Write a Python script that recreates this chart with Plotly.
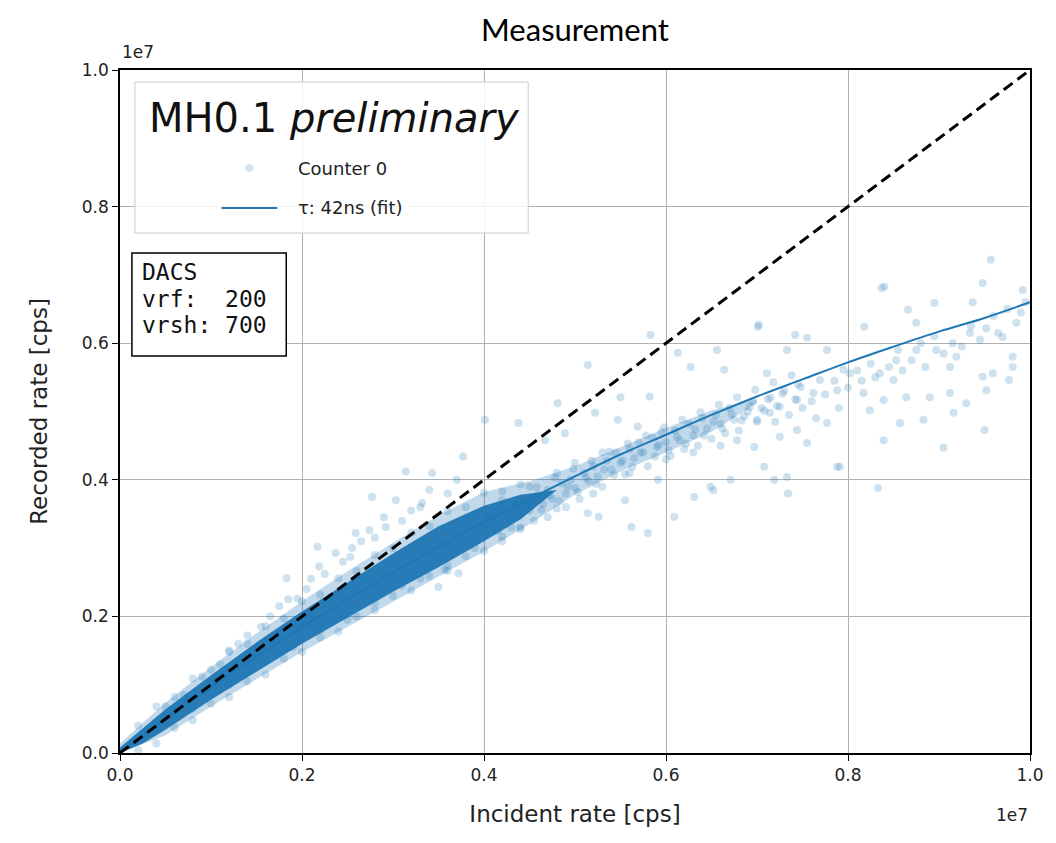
import plotly.graph_objects as go

# ---- data (units of 1e7 cps, as shown on the axes) ----
tick_vals = [0.0, 0.2, 0.4, 0.6, 0.8, 1.0]
tick_text = ["0.0", "0.2", "0.4", "0.6", "0.8", "1.0"]

# dense core of the measured cloud (region where points merge into a solid band)
core_x = [0.000, 0.025, 0.050, 0.100, 0.150, 0.200, 0.250, 0.300, 0.350, 0.400, 0.440, 0.480]
core_lo = [0.000, 0.014, 0.034, 0.078, 0.119, 0.160, 0.198, 0.236, 0.272, 0.310, 0.342, 0.385]
core_hi = [0.008, 0.036, 0.064, 0.114, 0.162, 0.207, 0.250, 0.292, 0.332, 0.362, 0.378, 0.385]

halo_x = [0.000, 0.050, 0.100, 0.150, 0.200, 0.250, 0.300, 0.350, 0.400, 0.450, 0.500, 0.550, 0.600, 0.650, 0.700]
halo_lo = [0.000, 0.026, 0.068, 0.108, 0.148, 0.185, 0.222, 0.258, 0.295, 0.335, 0.378, 0.412, 0.440, 0.470, 0.512]
halo_hi = [0.014, 0.074, 0.126, 0.175, 0.222, 0.266, 0.308, 0.348, 0.382, 0.398, 0.420, 0.448, 0.476, 0.502, 0.518]

# individually visible points of Counter 0
counter_x = [
    0.050, 0.070, 0.090, 0.110, 0.120, 0.130, 0.140, 0.155, 0.165, 0.175, 0.183, 0.185, 0.195, 0.205, 0.210,
    0.217, 0.219, 0.225, 0.237, 0.245, 0.253, 0.255, 0.259, 0.265, 0.274, 0.277, 0.280, 0.290, 0.292, 0.303,
    0.310, 0.314, 0.320, 0.330, 0.332, 0.340, 0.343, 0.360, 0.370, 0.377,
    0.080, 0.120, 0.160, 0.190, 0.220, 0.250, 0.280, 0.310, 0.330, 0.350, 0.357, 0.360, 0.372, 0.390, 0.420,
    0.401, 0.438, 0.467, 0.481, 0.489, 0.514, 0.522, 0.547, 0.550, 0.569, 0.582, 0.583, 0.613, 0.627, 0.656,
    0.664, 0.701,
    0.514, 0.526, 0.555, 0.562, 0.580, 0.591, 0.609, 0.631, 0.649, 0.652, 0.671,
    0.400, 0.405, 0.410, 0.415, 0.420, 0.425, 0.430, 0.435, 0.440, 0.445, 0.450, 0.455, 0.460, 0.465, 0.470,
    0.475, 0.480, 0.485, 0.490, 0.495, 0.500, 0.505, 0.510, 0.515, 0.520, 0.525, 0.530, 0.535, 0.540, 0.545,
    0.550, 0.555, 0.560, 0.565, 0.570, 0.575, 0.580, 0.585, 0.590, 0.595, 0.600, 0.605, 0.610, 0.615, 0.620,
    0.625, 0.630, 0.635, 0.640, 0.645, 0.650, 0.655, 0.660, 0.665, 0.670, 0.675, 0.680, 0.690, 0.695, 0.700,
    0.420, 0.450, 0.480, 0.500, 0.530, 0.470, 0.520, 0.560, 0.600, 0.630, 0.660, 0.440, 0.490,
    0.957, 0.948, 0.837, 0.895, 0.866, 0.937, 0.992, 0.875, 0.818, 0.702, 0.742, 0.755, 0.952, 0.970, 0.934,
    0.981, 0.981, 0.959, 0.948, 0.977, 0.919, 0.912, 0.897, 0.875, 0.853, 0.835, 0.850, 0.864, 0.839, 0.890,
    0.912, 0.930, 0.952, 0.883, 0.857, 0.950, 0.905, 0.839, 0.817, 0.824, 0.802, 0.788, 0.769, 0.762, 0.744,
    0.725, 0.714, 0.700, 0.686, 0.678, 0.725, 0.744, 0.777, 0.755, 0.788, 0.708, 0.733, 0.697, 0.733, 0.711,
    0.777, 0.795, 0.916, 0.840, 0.734, 0.833, 0.719, 0.791,
    0.705, 0.715, 0.720, 0.730, 0.735, 0.745, 0.750, 0.760, 0.765, 0.775, 0.785, 0.790, 0.800, 0.810, 0.815,
    0.825, 0.830, 0.845, 0.855, 0.860, 0.870, 0.880, 0.885, 0.895, 0.905, 0.915, 0.925, 0.935, 0.945, 0.960,
    0.965, 0.975, 0.985, 0.995, 0.990,
    # upper edge of the dense band
    0.020, 0.040, 0.060, 0.080, 0.100, 0.120, 0.140, 0.160, 0.180, 0.200, 0.220, 0.240, 0.260, 0.280, 0.300,
    0.320, 0.340, 0.360, 0.380, 0.400, 0.420, 0.440,
    # lower edge of the dense band
    0.020, 0.040, 0.060, 0.080, 0.100, 0.120, 0.140, 0.160, 0.180, 0.200, 0.220, 0.240, 0.260, 0.280, 0.300,
    0.320, 0.340, 0.360, 0.380, 0.400, 0.420, 0.440,
    # medium-density stretch along the fit
    0.452, 0.458, 0.463, 0.472, 0.478, 0.483, 0.492, 0.498, 0.503, 0.512, 0.518, 0.523, 0.532, 0.538, 0.543,
    0.552, 0.558, 0.563, 0.572, 0.578, 0.588, 0.592, 0.598, 0.603, 0.612, 0.618, 0.622, 0.632, 0.638, 0.642,
    0.652, 0.658, 0.662, 0.672, 0.678, 0.683, 0.692, 0.698, 0.708, 0.712, 0.718, 0.722, 0.728, 0.738, 0.742,
    0.748,
]
counter_y = [
    0.068, 0.085, 0.112, 0.130, 0.150, 0.160, 0.172, 0.185, 0.200, 0.215, 0.256, 0.225, 0.226, 0.240, 0.255,
    0.302, 0.273, 0.262, 0.293, 0.280, 0.287, 0.300, 0.322, 0.310, 0.326, 0.375, 0.315, 0.345, 0.331, 0.370,
    0.340, 0.412, 0.355, 0.360, 0.366, 0.385, 0.410, 0.380, 0.400, 0.434,
    0.065, 0.100, 0.135, 0.155, 0.180, 0.195, 0.220, 0.245, 0.255, 0.243, 0.268, 0.275, 0.263, 0.300, 0.310,
    0.488, 0.483, 0.458, 0.512, 0.468, 0.568, 0.498, 0.488, 0.521, 0.478, 0.522, 0.612, 0.586, 0.565, 0.590,
    0.561, 0.624,
    0.351, 0.346, 0.370, 0.331, 0.322, 0.400, 0.346, 0.375, 0.390, 0.385, 0.400,
    0.330, 0.345, 0.338, 0.325, 0.355, 0.342, 0.330, 0.362, 0.350, 0.368, 0.355, 0.340, 0.378, 0.365, 0.385,
    0.372, 0.358, 0.395, 0.380, 0.400, 0.388, 0.372, 0.410, 0.398, 0.420, 0.405, 0.390, 0.428, 0.415, 0.440,
    0.425, 0.408, 0.445, 0.432, 0.455, 0.440, 0.420, 0.462, 0.448, 0.470, 0.455, 0.435, 0.472, 0.458, 0.445,
    0.482, 0.465, 0.450, 0.490, 0.475, 0.460, 0.495, 0.482, 0.468, 0.505, 0.488, 0.472, 0.500, 0.515, 0.485,
    0.370, 0.390, 0.410, 0.425, 0.440, 0.345, 0.380, 0.410, 0.430, 0.440, 0.450, 0.330, 0.360,
    0.722, 0.688, 0.681, 0.659, 0.649, 0.660, 0.678, 0.630, 0.624, 0.627, 0.612, 0.608, 0.622, 0.609, 0.615,
    0.580, 0.565, 0.556, 0.551, 0.546, 0.580, 0.565, 0.590, 0.590, 0.575, 0.556, 0.546, 0.521, 0.517, 0.521,
    0.527, 0.512, 0.531, 0.488, 0.483, 0.473, 0.447, 0.458, 0.527, 0.502, 0.556, 0.531, 0.546, 0.527, 0.517,
    0.507, 0.498, 0.488, 0.493, 0.458, 0.463, 0.473, 0.483, 0.454, 0.419, 0.419, 0.404, 0.448, 0.590, 0.556,
    0.590, 0.561, 0.498, 0.683, 0.380, 0.388, 0.400, 0.419,
    0.505, 0.520, 0.485, 0.530, 0.495, 0.540, 0.505, 0.515, 0.490, 0.525, 0.545, 0.505, 0.535, 0.560, 0.545,
    0.570, 0.550, 0.565, 0.590, 0.560, 0.575, 0.600, 0.565, 0.610, 0.585, 0.600, 0.595, 0.625, 0.605, 0.640,
    0.615, 0.650, 0.630, 0.660, 0.645,
    0.040, 0.068, 0.082, 0.109, 0.122, 0.148, 0.160, 0.186, 0.197, 0.222, 0.232, 0.256, 0.266, 0.290, 0.300,
    0.323, 0.332, 0.354, 0.360, 0.381, 0.383, 0.393,
    0.004, 0.014, 0.037, 0.048, 0.072, 0.082, 0.105, 0.115, 0.138, 0.148, 0.169, 0.178, 0.200, 0.209, 0.230,
    0.238, 0.259, 0.267, 0.288, 0.296, 0.317, 0.328,
    0.363, 0.389, 0.356, 0.377, 0.403, 0.369, 0.390, 0.416, 0.382, 0.403, 0.428, 0.394, 0.415, 0.441, 0.407,
    0.428, 0.453, 0.419, 0.440, 0.465, 0.434, 0.451, 0.477, 0.443, 0.463, 0.488, 0.453, 0.474, 0.499, 0.465,
    0.485, 0.510, 0.475, 0.496, 0.521, 0.487, 0.507, 0.532, 0.501, 0.518, 0.543, 0.508, 0.526, 0.553, 0.518,
    0.536,
]

# fitted dead-time curve (tau = 42 ns)
fit_x = [0.00, 0.05, 0.10, 0.15, 0.20, 0.25, 0.30, 0.35, 0.40, 0.45, 0.50,
         0.55, 0.60, 0.65, 0.70, 0.75, 0.80, 0.85, 0.90, 0.95, 1.00]
fit_y = [0.000, 0.049, 0.096, 0.141, 0.184, 0.225, 0.264, 0.302, 0.338, 0.372, 0.405,
         0.437, 0.466, 0.495, 0.522, 0.547, 0.572, 0.595, 0.617, 0.637, 0.660]

# ideal (no dead time) reference line
ideal_x = [0.0, 1.0]
ideal_y = [0.0, 1.0]

BLUE = "#1f77b4"

fig = go.Figure()

fig.add_trace(go.Scatter(
    x=halo_x + halo_x[::-1], y=halo_hi + halo_lo[::-1],
    fill="toself", fillcolor="rgba(31,119,180,0.28)", line=dict(width=0),
    mode="lines", showlegend=False, hoverinfo="skip"))
fig.add_trace(go.Scatter(
    x=core_x + core_x[::-1], y=core_hi + core_lo[::-1],
    fill="toself", fillcolor="rgba(31,119,180,0.95)", line=dict(width=0),
    mode="lines", showlegend=False, hoverinfo="skip"))
fig.add_trace(go.Scatter(
    x=counter_x, y=counter_y, mode="markers", name="Counter 0",
    marker=dict(color=BLUE, size=8, opacity=0.22, line=dict(width=0)),
    showlegend=False))
fig.add_trace(go.Scatter(
    x=fit_x, y=fit_y, mode="lines", name="τ: 42ns (fit)",
    line=dict(color=BLUE, width=2), line_shape="spline", showlegend=False))
fig.add_trace(go.Scatter(
    x=ideal_x, y=ideal_y, mode="lines",
    line=dict(color="black", width=3, dash="11px,6px"), showlegend=False))

tickfont = dict(family="DejaVu Sans", size=17, color="#222222")
axis_common = dict(
    range=[0, 1], tickvals=tick_vals, ticktext=tick_text, tickfont=tickfont,
    showgrid=True, gridcolor="#b0b0b0", gridwidth=1, zeroline=False,
    showline=True, mirror=True, linecolor="black", linewidth=1.5,
    ticks="outside", ticklen=6, tickcolor="black", tickwidth=1.2)

fig.update_layout(
    width=1056, height=843,
    margin=dict(l=120, r=22, t=70, b=90),
    paper_bgcolor="white", plot_bgcolor="white",
    title=dict(text="Measurement", x=0.5, xref="paper", y=1 - 30 / 843, yanchor="middle",
               font=dict(family="Lato", size=31, color="black")),
    xaxis=dict(axis_common, title=dict(text="Incident rate [cps]", standoff=22,
               font=dict(family="DejaVu Sans", size=23, color="#222222"))),
    yaxis=dict(axis_common, title=dict(text="Recorded rate [cps]", standoff=28,
               font=dict(family="DejaVu Sans", size=23, color="#222222"))),
)

# offset exponent labels
fig.add_annotation(x=0.0, y=1.026, xref="paper", yref="paper", text="1e7", showarrow=False,
                   xanchor="left", yanchor="middle", font=dict(family="DejaVu Sans", size=17, color="#222222"))
fig.add_annotation(x=1.0, y=-0.091, xref="paper", yref="paper", text="1e7", showarrow=False,
                   xanchor="right", yanchor="middle", font=dict(family="DejaVu Sans", size=17, color="#222222"))

# legend box (matplotlib style)
fig.add_shape(type="rect", xref="paper", yref="paper", x0=0.0164, x1=0.4486, y0=0.7613, y1=0.9824,
              line=dict(color="#cccccc", width=1), fillcolor="rgba(255,255,255,0.85)", layer="above")
fig.add_annotation(x=0.2352, y=0.930, xref="paper", yref="paper", text="MH0.1 <i>preliminary</i>",
                   showarrow=False, xanchor="center", yanchor="middle",
                   font=dict(family="DejaVu Sans", size=40, color="#111111"))
fig.add_shape(type="circle", xref="paper", yref="paper", xsizemode="pixel", ysizemode="pixel",
              xanchor=0.1422, yanchor=0.8565, x0=-4, x1=4, y0=-4, y1=4,
              line=dict(width=0), fillcolor="rgba(31,119,180,0.2)", layer="above")
fig.add_annotation(x=0.1937, y=0.8565, xref="paper", yref="paper", text="Counter 0", showarrow=False,
                   xanchor="left", yanchor="middle", font=dict(family="DejaVu Sans", size=18, color="#222222"))
fig.add_shape(type="line", xref="paper", yref="paper", x0=0.1116, x1=0.1729, y0=0.798, y1=0.798,
              line=dict(color=BLUE, width=2), layer="above")
fig.add_annotation(x=0.1937, y=0.798, xref="paper", yref="paper", text="τ: 42ns (fit)", showarrow=False,
                   xanchor="left", yanchor="middle", font=dict(family="DejaVu Sans", size=18, color="#222222"))

# DACS settings box
fig.add_shape(type="rect", xref="paper", yref="paper", x0=0.0131, x1=0.1827, y0=0.5813, y1=0.7321,
              line=dict(color="black", width=1.5), fillcolor="white", layer="above")
dacs_lines = ["DACS", "vrf:\u00a0\u00a0200", "vrsh:\u00a0700"]
dacs_y = [0.7042, 0.6647, 0.6266]
for txt, yy in zip(dacs_lines, dacs_y):
    fig.add_annotation(x=0.0219, y=yy, xref="paper", yref="paper", text=txt, showarrow=False,
                       xanchor="left", yanchor="middle",
                       font=dict(family="DejaVu Sans Mono", size=23, color="#111111"))

fig.write_html("out.html")
